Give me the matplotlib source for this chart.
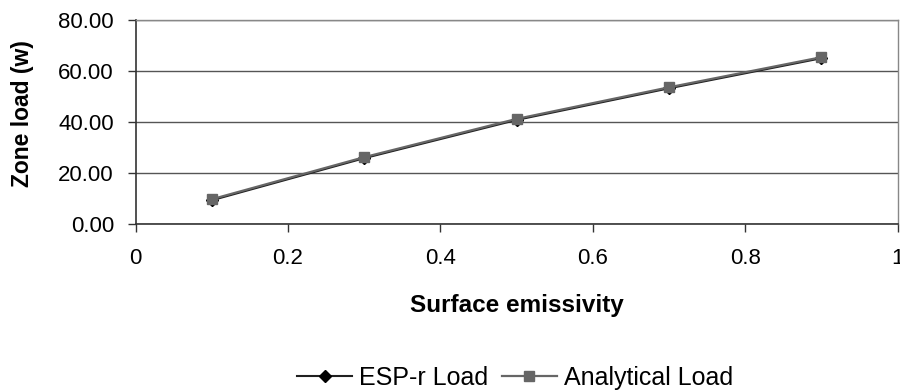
import matplotlib.pyplot as plt

plt.rcParams['font.family'] = ['Liberation Sans', 'DejaVu Sans']

emissivity = [0.1, 0.3, 0.5, 0.7, 0.9]
esp_load = [9.3, 25.8, 40.8, 53.2, 65.0]
analytical_load = [9.7, 26.2, 41.2, 53.6, 65.4]
y_ticks = [0, 20, 40, 60, 80]
x_ticks = [0, 0.2, 0.4, 0.6, 0.8, 1]

fig = plt.figure(figsize=(9, 3.91), dpi=100)
ax = fig.add_axes([135.5/900, 1 - 224/391, 762/900, 204/391])

ax.plot(emissivity, esp_load, color='#202020', lw=1.5, marker='D', ms=6,
        mfc='black', mec='black', label='ESP-r Load', zorder=3)
ax.plot(emissivity, analytical_load, color='#666666', lw=1.6, marker='s', ms=6.5,
        mfc='#666666', mec='#666666', label='Analytical Load', zorder=4)

ax.set_xlim(0, 1)
ax.set_ylim(0, 80)
ax.set_yticks(y_ticks)
ax.set_yticklabels(['%.2f' % v for v in y_ticks])
ax.set_xticks(x_ticks)
ax.set_xticklabels(['0', '0.2', '0.4', '0.6', '0.8', '1'])
ax.yaxis.grid(True, color='#555555', lw=1)
ax.set_axisbelow(True)

for s in ['top', 'right']:
    ax.spines[s].set_color('#888888')
    ax.spines[s].set_linewidth(1)
for s in ['left', 'bottom']:
    ax.spines[s].set_color('#333333')
    ax.spines[s].set_linewidth(1.2)

ax.tick_params(axis='both', labelsize=16, direction='out', length=5.5, color='#333333', width=1)
ax.tick_params(axis='x', pad=12)
ax.tick_params(axis='y', pad=10)

ax.set_xlabel('Surface emissivity', fontsize=17.5, fontweight='bold')
ax.xaxis.set_label_coords(0.501, -0.345)
ax.set_ylabel('Zone load (w)', fontsize=16.5, fontweight='bold')
ax.yaxis.set_label_coords(-0.133, 0.54)

fig.legend(loc='center', bbox_to_anchor=(515/900, 1 - 378/391), ncol=2, frameon=False,
           fontsize=18, handlelength=2.2, handletextpad=0.28, columnspacing=0.52,
           borderpad=0, borderaxespad=0)

fig.savefig('out.png', dpi=100)
